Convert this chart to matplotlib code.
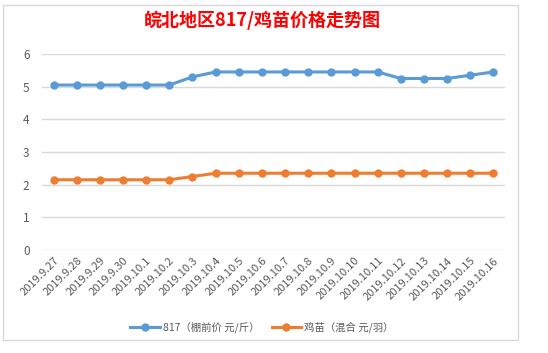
import matplotlib.pyplot as plt
from matplotlib.patches import Rectangle

plt.rcParams['font.family'] = ['Noto Sans CJK SC', 'DejaVu Sans']

dates = ['2019.9.27', '2019.9.28', '2019.9.29', '2019.9.30', '2019.10.1',
         '2019.10.2', '2019.10.3', '2019.10.4', '2019.10.5', '2019.10.6',
         '2019.10.7', '2019.10.8', '2019.10.9', '2019.10.10', '2019.10.11',
         '2019.10.12', '2019.10.13', '2019.10.14', '2019.10.15', '2019.10.16']
price_817 = [5.05, 5.05, 5.05, 5.05, 5.05, 5.05, 5.3, 5.45, 5.45, 5.45,
             5.45, 5.45, 5.45, 5.45, 5.45, 5.25, 5.25, 5.25, 5.35, 5.45]
price_chick = [2.15, 2.15, 2.15, 2.15, 2.15, 2.15, 2.25, 2.35, 2.35, 2.35,
               2.35, 2.35, 2.35, 2.35, 2.35, 2.35, 2.35, 2.35, 2.35, 2.35]

fig = plt.figure(figsize=(5.48, 3.53), dpi=100)
fig.patch.set_facecolor('white')

# chart frame like an Excel chart object
fig.add_artist(Rectangle((3 / 548, 1 - 340 / 353), 515 / 548, 335 / 353,
                         transform=fig.transFigure, fill=False,
                         edgecolor='#d9d9d9', linewidth=1))

ax = fig.add_axes([42 / 548, 1 - 250 / 353, 463 / 548, 196 / 353])
x = range(len(dates))
ax.plot(x, price_817, color='#5b9bd5', linewidth=2.2, marker='o',
        markersize=5, label='817（棚前价 元/斤）')
ax.plot(x, price_chick, color='#ed7d31', linewidth=2.2, marker='o',
        markersize=5, label='鸡苗（混合 元/羽）')

ax.set_ylim(0, 6)
ax.set_xlim(-0.5, len(dates) - 0.5)
ax.set_yticks(range(7))
ax.set_xticks(list(x))
ax.set_xticklabels(dates, rotation=45, ha='right', rotation_mode='anchor',
                   fontsize=8, color='#595959')
ax.tick_params(axis='y', labelsize=8.5, labelcolor='#595959', length=0, pad=9)
ax.tick_params(axis='x', length=0, pad=4)
ax.grid(axis='y', color='#d9d9d9', linewidth=1)
ax.set_axisbelow(True)
for s in ax.spines.values():
    s.set_visible(False)

fig.text(262 / 548, 1 - 20 / 353, '皖北地区817/鸡苗价格走势图', color='red',
         fontsize=13, fontweight='bold', ha='center', va='center')

fig.legend(loc='center', bbox_to_anchor=(262 / 548, 1 - 327 / 353), ncol=2,
           frameon=False, fontsize=7.5, labelcolor='#595959',
           handlelength=2.8, columnspacing=1.2, handletextpad=0.3)

fig.savefig('out.png', dpi=100)
